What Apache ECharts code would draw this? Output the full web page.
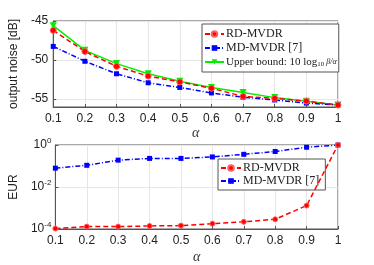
<!DOCTYPE html>
<html><head><meta charset="utf-8">
<script src="https://cdn.jsdelivr.net/npm/echarts@6/dist/echarts.min.js"></script>
<style>html,body{margin:0;padding:0;background:#fff}#c{width:374px;height:265px}</style>
</head><body><div id="c"></div>
<script>
const alphas = [0.1,0.2,0.3,0.4,0.5,0.6,0.7,0.8,0.9,1.0];
const noiseRD = [-46.2,-48.9,-50.8,-52.05,-52.8,-53.6,-54.65,-54.9,-55.25,-55.75];
const noiseMD = [-48.25,-50.15,-51.75,-52.9,-53.5,-54.2,-54.75,-55.1,-55.5,-55.75];
const noiseUB = [-45.6,-48.75,-50.45,-51.75,-52.7,-53.5,-54.15,-54.8,-55.25,-55.75];
const eurRD = [1.05e-4,1.3e-4,1.3e-4,1.4e-4,1.45e-4,1.8e-4,2.2e-4,2.9e-4,1.3e-3,1.0];
const eurMD = [0.079,0.108,0.19,0.23,0.23,0.27,0.36,0.49,0.78,1.0];
const noiseTicks = [-55,-50,-45];

const pair = (ys) => alphas.map((a,i)=>[a,ys[i]]);
const sans = 'Liberation Sans';
const serif = 'Liberation Serif';
const RED = '#ff0000', BLUE = '#0000ff', GREEN = '#00f000';

const chart = echarts.init(document.getElementById('c'), null, {renderer:'canvas'});
const xAxisBase = (gi) => ({
  type:'value', gridIndex:gi, min:0.1, max:1, interval:0.1,
  name:'α', nameLocation:'middle', nameGap:gi===0?17:21,
  nameTextStyle:{fontFamily:serif, fontStyle:'italic', fontSize:14, color:'#333'},
  axisLine:{show:true, lineStyle:{color:'#555'}}, axisTick:{show:true, inside:true, length:3, lineStyle:{color:'#555'}},
  axisLabel:{fontFamily:sans, fontSize:12, color:'#222', margin:6, formatter:v=>String(+v.toFixed(1))},
  splitLine:{show:true, lineStyle:{color:'#e6e6e6'}}
});
const supRich = {b:{fontFamily:sans,fontSize:12,color:'#222'}, s:{fontFamily:sans,fontSize:8,color:'#222',verticalAlign:'top',padding:[0,0,8,0]}};
chart.setOption({
  animation:false,
  grid:[
    {left:49, right:36, top:21, height:86, show:true, borderColor:'#555', borderWidth:1},
    {left:49, right:36, top:145, height:87, show:true, borderColor:'#555', borderWidth:1}
  ],
  xAxis:[xAxisBase(0), xAxisBase(1)],
  yAxis:[
    {type:'value', gridIndex:0, min:-56, max:-45,
     name:'output noise [dB]', nameLocation:'middle', nameGap:29,
     nameTextStyle:{fontFamily:sans, fontSize:12, color:'#222'},
     axisLine:{show:true, lineStyle:{color:'#555'}},
     axisTick:{show:true, inside:true, length:3, customValues:noiseTicks, lineStyle:{color:'#555'}},
     axisLabel:{fontFamily:sans, fontSize:12, color:'#222', margin:5, customValues:noiseTicks},
     splitLine:{show:true, lineStyle:{color:'#e6e6e6'}}},
    {type:'log', gridIndex:1, logBase:10, min:1e-4, max:1, interval:2,
     name:'EUR', nameLocation:'middle', nameGap:31,
     nameTextStyle:{fontFamily:sans, fontSize:12, color:'#222'},
     axisLine:{show:true, lineStyle:{color:'#555'}},
     axisTick:{show:true, inside:true, length:3, lineStyle:{color:'#555'}},
     axisLabel:{margin:4, formatter:v=>'{b|10}{s|'+Math.round(Math.log10(v))+'}', rich:supRich},
     splitLine:{show:true, lineStyle:{color:'#e6e6e6'}},
     minorTick:{show:false}}
  ],
  legend:[
    {left:202, top:24, orient:'vertical', itemWidth:19, itemHeight:7, itemGap:2,
     padding:[4,2,4,2], borderColor:'#555', borderWidth:1, backgroundColor:'#fff', borderRadius:0,
     textStyle:{fontFamily:serif, fontSize:12, color:'#222', padding:[0,0,0,-3],
       rich:{t:{fontFamily:serif,fontSize:11,color:'#222',lineHeight:14}, sub:{fontFamily:serif,fontSize:7,color:'#222',padding:[5,0,0,0],lineHeight:14}, fr:{fontFamily:serif,fontStyle:'italic',fontSize:8,color:'#222',lineHeight:14}}},
     formatter:n=> n.startsWith('Upper') ? '{t|Upper bound: 10 log}{sub|10}{fr| β/α}' : n,
     data:['RD-MVDR','MD-MVDR [7]','Upper bound']},
    {left:218, top:159, orient:'vertical', itemWidth:20, itemHeight:7, itemGap:1,
     padding:[3,3,3,2], borderColor:'#555', borderWidth:1, backgroundColor:'#fff', borderRadius:0,
     textStyle:{fontFamily:serif, fontSize:12, color:'#222', padding:[0,0,0,-3]},
     data:['RD-MVDR ','MD-MVDR [7] ']}
  ],
  series:[
    {name:'RD-MVDR', type:'line', xAxisIndex:0, yAxisIndex:0, data:pair(noiseRD), color:RED,
     lineStyle:{type:[5,3], width:1.5, color:RED}, symbol:'circle', symbolSize:6,
     itemStyle:{color:RED, borderColor:'#ff6060', borderWidth:1}, z:4},
    {name:'MD-MVDR [7]', type:'line', xAxisIndex:0, yAxisIndex:0, data:pair(noiseMD), color:BLUE,
     lineStyle:{type:[5,2,1,2], width:1.5, color:BLUE}, symbol:'rect', symbolSize:5,
     itemStyle:{color:BLUE}, z:3},
    {name:'Upper bound', type:'line', xAxisIndex:0, yAxisIndex:0, data:pair(noiseUB), color:GREEN,
     lineStyle:{type:'solid', width:1.5, color:GREEN}, symbol:'triangle', symbolRotate:180, symbolSize:7,
     itemStyle:{color:GREEN}, z:2},
    {name:'RD-MVDR ', type:'line', xAxisIndex:1, yAxisIndex:1, data:pair(eurRD), color:RED,
     lineStyle:{type:[5,3], width:1.5, color:RED}, symbol:'circle', symbolSize:5,
     itemStyle:{color:RED, borderColor:'#ff6060', borderWidth:1}, z:4},
    {name:'MD-MVDR [7] ', type:'line', xAxisIndex:1, yAxisIndex:1, data:pair(eurMD), color:BLUE,
     lineStyle:{type:[5,2,1,2], width:1.5, color:BLUE}, symbol:'rect', symbolSize:5,
     itemStyle:{color:BLUE}, z:3}
  ]
});
</script></body></html>
